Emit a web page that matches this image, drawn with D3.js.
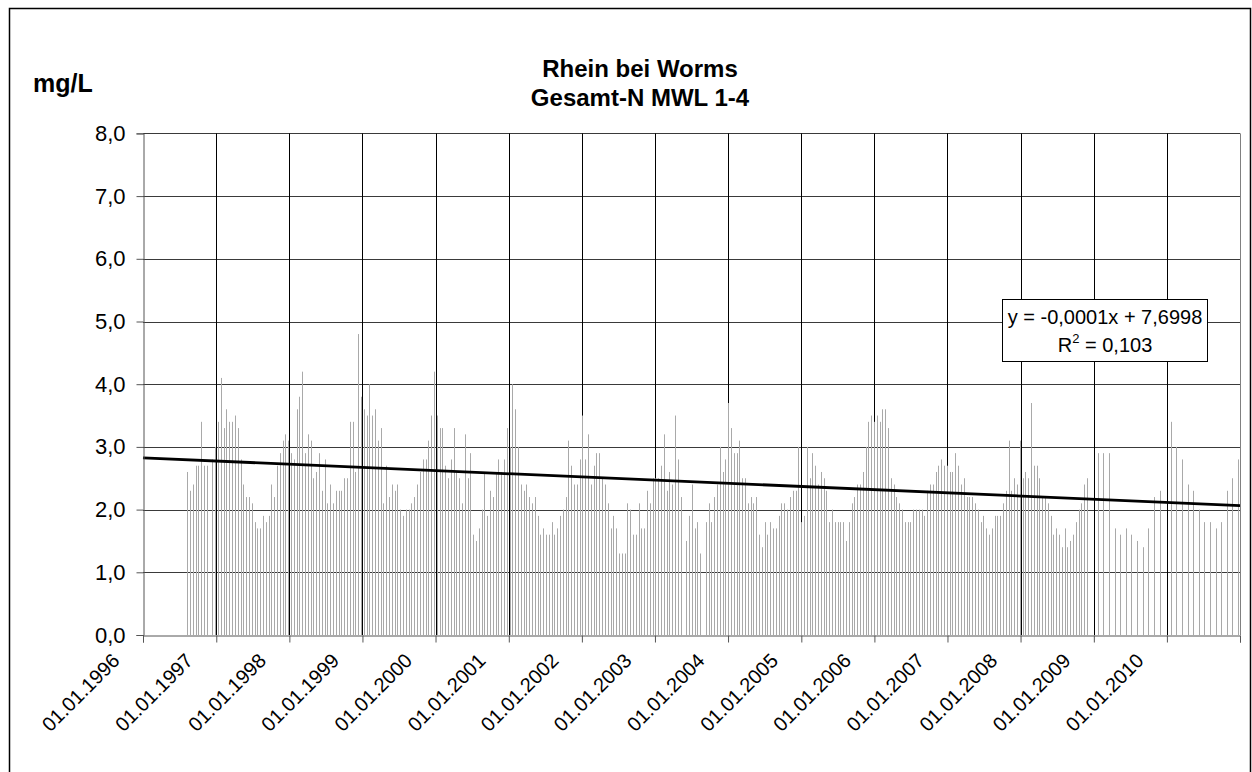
<!DOCTYPE html>
<html><head><meta charset="utf-8">
<script src="https://cdn.jsdelivr.net/npm/d3@7"></script>
<style>body{margin:0;background:#fff} text{font-family:Arial,"Liberation Sans",sans-serif;fill:#000}</style>
</head><body><svg id="c" width="1252" height="772"></svg>
<script>
// ---------- data ----------
const titleLines = ["Rhein bei Worms", "Gesamt-N MWL 1-4"];
const unitLabel = "mg/L";
const yTickValues = [0, 1, 2, 3, 4, 5, 6, 7, 8];
const xTickYears = [1996,1997,1998,1999,2000,2001,2002,2003,2004,2005,2006,2007,2008,2009,2010,2011];
const xLabelYears = [1996,1997,1998,1999,2000,2001,2002,2003,2004,2005,2006,2007,2008,2009,2010];

// 14-day composite samples (mg/L), null = missing sample
const biweeklyStart = "1996-08-09";
const biweeklyStepDays = 14;
const biweeklyValues = [
 2.6,2.3,2.4,2.7,2.7,3.4,2.7,2.7,null,2.8,3.0,3.4,4.1,3.3,3.6,3.4,3.4,3.5,3.3,2.8,
 2.4,2.2,2.2,2.1,1.8,1.7,1.7,1.9,1.8,1.9,2.4,2.2,2.7,2.9,3.1,3.2,3.1,2.9,2.8,3.6,
 3.8,4.2,2.9,3.2,3.1,2.5,2.6,2.9,2.3,2.8,2.1,2.4,2.1,2.3,2.3,2.3,2.5,2.5,3.4,3.4,
 2.6,4.8,3.8,3.6,3.5,4.0,3.5,3.6,3.1,3.3,2.1,2.7,2.2,2.4,2.3,2.4,2.0,1.9,2.0,2.0,
 2.1,2.2,2.4,2.6,2.8,2.8,3.1,3.5,4.2,3.5,3.3,3.3,2.7,2.5,2.8,3.3,2.6,2.5,2.1,3.2,
 2.5,2.9,1.6,1.5,1.7,2.0,2.6,1.9,2.3,2.2,2.6,2.8,2.6,2.8,3.3,3.0,4.0,3.6,3.0,2.4,
 2.3,2.4,2.2,2.1,2.2,1.9,1.6,1.7,1.6,1.6,1.8,1.6,1.7,1.9,2.0,2.2,3.1,2.7,2.4,2.4,
 2.8,3.5,2.8,3.2,2.4,2.7,2.9,2.9,2.5,2.4,2.1,1.7,1.9,1.7,1.3,1.3,1.3,2.1,2.0,1.6,
 1.6,2.1,1.7,1.7,2.3,2.1,2.5,2.5,2.5,2.7,3.2,2.3,2.6,2.4,3.5,2.8,2.2,null,1.5,1.9,
 2.4,1.7,1.8,1.3,null,1.8,2.1,1.8,2.2,2.4,3.0,2.6,2.8,3.7,3.3,2.9,2.9,3.1,2.5,2.5,
 2.1,2.2,2.1,2.2,1.6,1.4,1.8,1.6,1.8,1.7,1.7,1.9,2.1,2.1,2.0,2.2,2.3,2.3,3.0,1.8,
 1.9,3.0,2.5,2.9,2.7,2.4,2.6,2.5,2.3,1.8,2.0,1.8,1.8,1.8,1.8,1.5,1.8,2.1,2.2,2.4,
 2.4,2.6,3.0,3.4,3.5,3.4,3.5,3.4,3.6,3.6,3.3,2.5,2.4,2.2,2.1,2.0,1.8,1.8,1.8,2.0,
 2.0,2.0,2.0,1.9,2.3,2.4,2.4,2.6,2.7,2.8,2.7,2.7,2.6,2.6,2.9,2.7,2.4,2.5,2.2,2.2,
 2.2,2.1,2.0,1.8,1.9,1.7,1.6,1.7,1.9,1.9,1.9,2.1,2.3,3.1,2.3,2.5,2.4,3.1,2.5,2.6,
 2.5,3.7,2.7,2.7,2.5,2.2,2.2,2.1,1.9,1.6,1.7,1.6,1.4,1.7,1.4,1.5,1.6,1.8,2.0,2.1,
 2.4,2.5
];

// 4-weekly samples from 2009 on
const fourWeeklyStart = "2009-01-21";
const fourWeeklyStepDays = 28;
const fourWeeklyValues = [
 2.9,2.9,2.9,1.7,1.6,1.7,1.6,1.5,1.4,1.7,2.2,2.3,null,3.4,3.0,2.8,2.4,2.3,2.0,1.8,
 1.8,1.7,1.8,2.3,2.5,2.8
];

// linear trend (Excel date serial as x)
const trendSlope = -0.000139;
const trendIntercept = 7.6998;
const trendLabelLine1 = "y = -0,0001x + 7,6998";
const trendLabelR2 = "0,103";

// ---------- build ----------
const parse = d3.utcParse("%Y-%m-%d");
const DAY = 86400000;
function series(start, step, vals) {
  const t0 = parse(start).getTime();
  return vals.map((v, i) => ({date: new Date(t0 + i * step * DAY), value: v}));
}
const samples = series(biweeklyStart, biweeklyStepDays, biweeklyValues)
  .concat(series(fourWeeklyStart, fourWeeklyStepDays, fourWeeklyValues))
  .filter(d => d.value != null);

const W = 1252, H = 772;
const M = {left: 143, right: 1240, top: 133.4, bottom: 635};
const svg = d3.select("#c");
svg.append("rect").attr("width", W).attr("height", H).attr("fill", "#fff");
svg.append("rect").attr("x", 9.5).attr("y", 8.5).attr("width", 1241).attr("height", 780)
  .attr("fill", "none").attr("stroke", "#000").attr("stroke-width", 1.5);

const x = d3.scaleUtc()
  .domain([Date.UTC(xTickYears[0],0,1), Date.UTC(xTickYears[xTickYears.length-1],0,1)])
  .range([M.left, M.right]);
const y = d3.scaleLinear().domain([0, 8]).range([M.bottom, M.top]);

const g = svg.append("g");
g.selectAll("line.hg").data(yTickValues.filter(v => v > 0)).join("line")
  .attr("x1", M.left).attr("x2", M.right)
  .attr("y1", d => Math.round(y(d)) + 0.5).attr("y2", d => Math.round(y(d)) + 0.5)
  .attr("stroke", "#3a3a3a").attr("stroke-width", 1);
const yearDates = xTickYears.map(yr => new Date(Date.UTC(yr,0,1)));
g.selectAll("line.vg").data(yearDates.slice(1, -1)).join("line")
  .attr("x1", d => Math.round(x(d)) + 0.5).attr("x2", d => Math.round(x(d)) + 0.5)
  .attr("y1", M.top).attr("y2", M.bottom)
  .attr("stroke", "#000").attr("stroke-width", 1);

g.selectAll("rect.bar").data(samples).join("rect")
  .attr("x", d => Math.round(x(d.date)))
  .attr("width", 1)
  .attr("y", d => y(d.value))
  .attr("height", d => y(0) - y(d.value))
  .attr("fill", "#a9a9a9");

const serial = d => (d.getTime() - Date.UTC(1899,11,30)) / DAY;
const trendDates = [yearDates[0], yearDates[yearDates.length-1]];
g.append("path")
  .attr("d", d3.line().x(d => x(d)).y(d => y(trendSlope * serial(d) + trendIntercept))(trendDates))
  .attr("fill", "none").attr("stroke", "#000").attr("stroke-width", 2.8);

const yAxis = d3.axisLeft(y).tickValues(yTickValues).tickSize(7).tickPadding(11)
  .tickFormat(d => d3.format(".1f")(d).replace(".", ","));
const ya = svg.append("g").attr("transform", `translate(${M.left + 0.5},0)`).call(yAxis);
ya.select(".domain").attr("stroke", "#555");
ya.selectAll(".tick line").attr("stroke", "#555");
ya.selectAll(".tick text").attr("font-size", 22).attr("font-family", "Arial, 'Liberation Sans', sans-serif");

const fmt = d3.utcFormat("%d.%m.%Y");
const xAxis = d3.axisBottom(x).tickValues(yearDates).tickSize(7).tickFormat("");
const xa = svg.append("g").attr("transform", `translate(0,${M.bottom + 0.5})`).call(xAxis);
xa.select(".domain").attr("stroke", "#555");
xa.selectAll(".tick line").attr("stroke", "#555");
svg.append("g").selectAll("text").data(xLabelYears.map(yr => new Date(Date.UTC(yr,0,1)))).join("text")
  .attr("transform", d => `translate(${x(d) - 27},${M.bottom + 22}) rotate(-45)`)
  .attr("text-anchor", "end").attr("dominant-baseline", "central")
  .attr("font-size", 20).text(d => fmt(d));

svg.append("line").attr("x1", M.right + 0.5).attr("x2", M.right + 0.5)
  .attr("y1", M.top).attr("y2", M.bottom).attr("stroke", "#808080");

svg.append("g").selectAll("text").data(titleLines).join("text")
  .attr("x", 640).attr("y", (d, i) => 77 + i * 29)
  .attr("text-anchor", "middle").attr("font-weight", "bold").attr("font-size", 24)
  .text(d => d);
svg.append("text").attr("x", 33).attr("y", 92).attr("font-weight", "bold").attr("font-size", 25)
  .text(unitLabel);

const box = svg.append("g");
box.append("rect").attr("x", 1002.5).attr("y", 299.5).attr("width", 205).attr("height", 62)
  .attr("fill", "#fff").attr("stroke", "#000").attr("stroke-width", 1);
box.append("text").attr("x", 1105).attr("y", 324).attr("text-anchor", "middle")
  .attr("font-size", 20).text(trendLabelLine1);
const r2 = box.append("text").attr("x", 1105).attr("y", 352).attr("text-anchor", "middle")
  .attr("font-size", 20);
r2.append("tspan").text("R");
r2.append("tspan").attr("font-size", 13).attr("dy", -9).text("2");
r2.append("tspan").attr("dy", 9).text(" = " + trendLabelR2);
</script></body></html>
